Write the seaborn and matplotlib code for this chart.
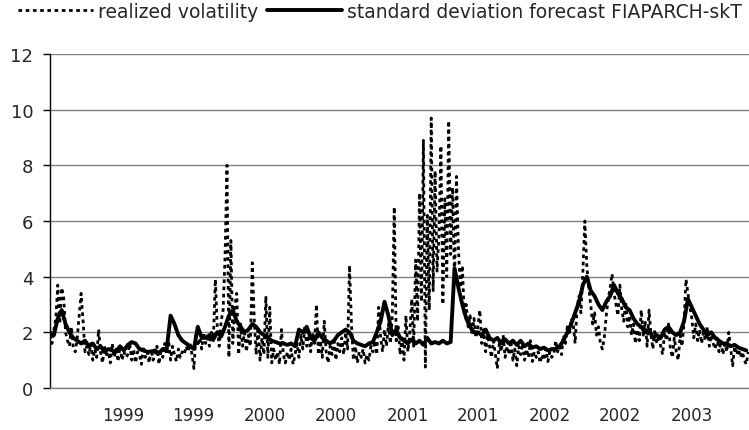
import matplotlib
matplotlib.use('Agg')
import matplotlib.pyplot as plt
import numpy as np
import pandas as pd
import seaborn as sns

rv_values = [
    1.9, 1.6, 2.1, 2.5, 3.7, 2.3, 3.6, 3.3, 2.0, 1.7,
    1.5, 2.2, 1.4, 1.3, 1.8, 2.6, 3.4, 2.4, 1.3, 1.5,
    1.2, 1.6, 1.0, 1.4, 1.1, 2.1, 1.3, 0.9, 1.5, 1.2,
    1.3, 0.9, 1.6, 1.1, 1.4, 0.95, 1.5, 1.0, 1.3, 1.1,
    1.2, 1.6, 1.0, 1.4, 0.9, 1.3, 1.2, 0.85, 1.5, 1.1,
    1.3, 0.9, 1.4, 1.0, 1.2, 1.5, 0.85, 1.3, 1.1, 1.6,
    1.2, 1.7, 1.0, 1.5, 1.2, 0.95, 1.4, 1.1, 1.3, 1.2,
    1.5, 1.3, 1.6, 1.2, 0.7, 1.9, 1.5, 1.8, 1.4, 2.0,
    1.6, 1.8, 1.5, 2.0, 1.7, 3.9, 2.2, 1.5, 2.4, 2.8,
    4.7, 8.0, 1.1, 5.3, 1.6, 2.9, 3.4, 1.2, 2.3, 1.5,
    2.0, 1.3, 1.9, 1.5, 4.5, 2.5, 1.2, 2.2, 1.0, 1.8,
    1.2, 3.3, 1.1, 2.9, 0.9, 1.4, 1.0, 1.3, 0.85, 2.1,
    1.2, 0.9, 1.3, 1.0, 1.4, 0.85, 1.2, 1.6, 1.1, 1.9,
    1.4, 2.2, 1.5, 1.9, 1.3, 2.0, 1.6, 3.0, 1.2, 1.7,
    1.1, 2.4, 1.3, 0.9, 1.5, 1.2, 1.8, 1.0, 1.6, 1.3,
    1.8, 1.2, 2.0, 1.4, 4.4, 2.3, 1.0, 1.5, 0.9, 1.3,
    1.1, 1.4, 0.9, 1.2, 1.0, 1.5, 1.3, 1.7, 1.2, 2.9,
    1.8, 1.3, 2.1, 1.5, 2.3, 1.6, 2.6, 6.5, 1.7, 2.2,
    1.2, 1.8, 1.0, 2.6, 1.3, 2.0, 3.2, 1.5, 4.6, 2.4,
    7.0, 3.1, 8.9, 0.75, 6.2, 2.8, 9.7, 3.5, 7.8, 4.2,
    5.5, 8.7, 3.0, 6.8, 4.0, 9.6, 4.8, 7.2, 3.8, 7.6,
    5.0, 3.6, 4.4, 2.6, 3.0, 2.2, 2.6, 1.9, 2.5, 1.8,
    2.2, 2.8, 1.6, 2.1, 1.3, 1.9, 1.5, 1.1, 1.7, 1.2,
    0.7, 1.6, 1.3, 1.9, 1.1, 1.5, 1.2, 1.7, 1.0, 1.4,
    0.8, 1.5, 1.2, 1.6, 1.0, 1.4, 1.1, 1.7, 0.95, 1.3,
    1.1, 1.3, 0.9, 1.2, 1.0, 1.4, 0.95, 1.3, 1.1, 1.2,
    1.7, 1.3, 1.5, 1.2, 1.9, 1.6, 2.2, 1.9, 2.5, 2.3,
    1.6, 2.9, 3.3, 2.7, 4.2, 6.0, 4.4, 3.6, 3.0, 2.3,
    2.7, 1.9, 2.2, 1.6, 1.4, 1.8, 2.6, 3.2, 3.6, 4.1,
    3.4, 3.0, 2.6, 3.7, 2.8, 2.4, 3.1, 2.2, 2.6, 1.9,
    2.3, 1.6, 2.1, 1.7, 2.8, 1.9, 2.4, 1.5, 2.8, 1.9,
    1.4, 2.1, 1.6, 1.9, 1.5, 1.2, 2.0, 1.7, 2.3, 1.4,
    1.1, 1.8, 1.3, 1.0, 1.9, 1.5, 2.4, 3.9, 3.4, 2.9,
    2.5, 1.8, 2.3, 1.7, 2.1, 1.6, 2.0, 1.7, 2.2, 1.5,
    1.9, 1.6, 1.4, 1.8, 1.3, 1.7, 1.2, 1.6, 1.3, 2.0,
    1.4, 0.8, 1.5, 1.2, 1.4, 1.1, 1.3, 1.0, 0.85, 1.3,
]

# FIAPARCH-skT standard deviation forecast, sampled every 10 days
fc_values = [
    2.0, 1.9, 2.5, 2.8, 2.3, 2.0, 1.8, 1.7, 1.6, 1.7,
    1.5, 1.6, 1.4, 1.5, 1.3, 1.4, 1.35, 1.3, 1.5, 1.35,
    1.55, 1.65, 1.6, 1.4, 1.35, 1.3, 1.3, 1.35, 1.25, 1.4,
    1.4, 2.6, 2.3, 1.9, 1.7, 1.6, 1.5, 1.4, 2.2, 1.8,
    1.8, 1.9, 1.75, 2.0, 1.85, 2.2, 2.6, 2.8, 2.4, 2.2,
    2.0, 2.1, 2.3, 2.2, 2.0, 1.9, 1.8, 1.7, 1.65, 1.6,
    1.6, 1.55, 1.6, 1.5, 2.1, 2.0, 2.2, 1.8, 1.7, 2.0,
    1.8, 1.7, 1.6, 1.7, 1.9, 2.0, 2.1, 2.0, 1.7, 1.6,
    1.55, 1.5, 1.6, 1.65, 2.0, 2.4, 3.1, 2.6, 1.9, 2.1,
    1.8, 1.7, 1.6, 1.75, 1.6, 1.7, 1.55, 1.8, 1.6, 1.65,
    1.6, 1.7, 1.6, 1.65, 4.3, 3.6, 3.0, 2.5, 2.2, 2.0,
    2.0, 1.9, 2.1, 1.8, 1.7, 1.8, 1.6, 1.75, 1.6, 1.7,
    1.55, 1.7, 1.5, 1.6, 1.45, 1.5, 1.4, 1.45, 1.35, 1.4,
    1.4, 1.5, 1.7, 2.0, 2.3, 2.7, 3.1, 3.7, 4.0, 3.5,
    3.3, 3.0, 2.8, 3.1, 3.3, 3.7, 3.4, 3.2, 2.9, 2.8,
    2.5, 2.3, 2.2, 2.0, 2.1, 1.8, 1.9, 1.8, 2.1, 2.2,
    2.0, 1.9, 2.0, 2.4, 3.2, 2.9, 2.6, 2.3, 2.1, 1.9,
    2.0, 1.8, 1.7, 1.6, 1.6, 1.5, 1.55, 1.45, 1.4, 1.35,
]

start_date = '1998-06-27'
end_date = '2003-05-29'
tick_dates = ['1999-01-01', '1999-07-01', '2000-01-01', '2000-07-01', '2001-01-01',
              '2001-07-01', '2002-01-01', '2002-07-01', '2003-01-01']
tick_labels = ['1999', '1999', '2000', '2000', '2001', '2001', '2002', '2002', '2003']
y_ticks = [0, 2, 4, 6, 8, 10, 12]

GRID = '#808080'


def make_plot():
    sns.set_style('white')
    plt.rcParams['font.family'] = ['DejaVu Sans']

    rv_dates = pd.date_range(start_date, periods=len(rv_values), freq='5D')
    fc_dates = pd.date_range(start_date, periods=len(fc_values), freq='10D')

    fig, ax = plt.subplots(figsize=(7.49, 4.31), dpi=100)
    fig.subplots_adjust(left=50 / 749, right=1.0, top=1 - 55 / 431, bottom=1 - 389 / 431)

    sns.lineplot(x=rv_dates, y=rv_values, ax=ax, color='black', linewidth=2.0,
                 linestyle=(0, (1.3, 1.3)), label='realized volatility')
    sns.lineplot(x=fc_dates, y=fc_values, ax=ax, color='black', linewidth=2.8,
                 label='standard deviation forecast FIAPARCH-skT')

    ax.set_xlim(pd.Timestamp(start_date), pd.Timestamp(end_date))
    ax.set_ylim(0, 12)
    ax.set_yticks(y_ticks)
    ax.set_xticks(pd.to_datetime(tick_dates))
    ax.set_xticklabels(tick_labels)
    ax.set_xlabel('')
    ax.set_ylabel('')

    ax.yaxis.grid(True, color=GRID, linewidth=1.0)
    ax.xaxis.grid(False)
    for s in ['top', 'right']:
        ax.spines[s].set_visible(False)
    ax.spines['left'].set_color('black')
    ax.spines['left'].set_linewidth(1.0)
    ax.spines['bottom'].set_color(GRID)
    ax.spines['bottom'].set_linewidth(1.0)
    ax.tick_params(axis='y', left=True, length=5, width=1, color='black', pad=7, labelsize=13)
    ax.tick_params(axis='x', bottom=False, length=0, pad=13, labelsize=12)

    handles, labels = ax.get_legend_handles_labels()
    ax.get_legend().remove()
    fig.legend(handles, labels, loc='center', bbox_to_anchor=(0.507, 0.972), ncol=2,
               frameon=False, fontsize=13.5, handlelength=4.0, handletextpad=0.27,
               columnspacing=0.45, borderpad=0, borderaxespad=0)

    fig.savefig('out.png', dpi=100)
    plt.close()


if __name__ == '__main__':
    make_plot()
